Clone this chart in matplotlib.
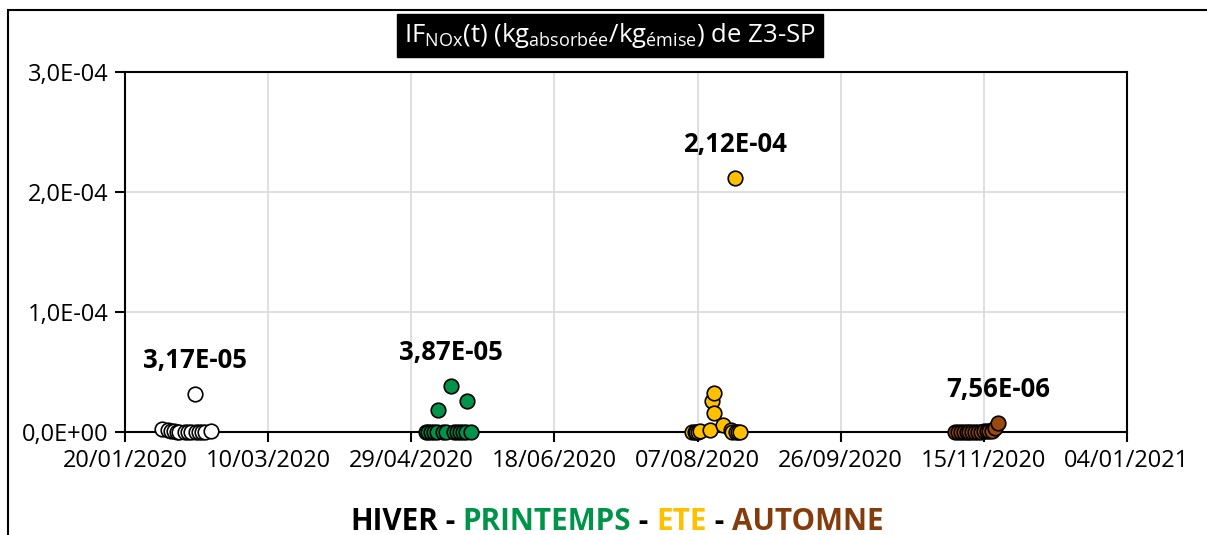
import numpy as np
import pandas as pd
import matplotlib
matplotlib.use('Agg')
import matplotlib.pyplot as plt
import matplotlib.dates as mdates
from matplotlib.patches import Rectangle
from matplotlib.text import Annotation
from matplotlib.ticker import FuncFormatter, FixedLocator

plt.rcParams['font.family'] = ['Open Sans', 'DejaVu Sans']
plt.rcParams['mathtext.fontset'] = 'custom'
plt.rcParams['mathtext.rm'] = 'Open Sans'
plt.rcParams['mathtext.it'] = 'Open Sans'

hiver_dates = ['2020-02-02', '2020-02-04', '2020-02-05', '2020-02-06', '2020-02-07',
               '2020-02-08', '2020-02-10', '2020-02-11', '2020-02-12', '2020-02-13 10:00',
               '2020-02-13 16:00', '2020-02-15', '2020-02-16', '2020-02-17', '2020-02-19']
hiver_vals = [2.5e-6, 1.5e-6, 0.8e-6, 0.5e-6, 0.3e-6,
              0.2e-6, 0.3e-6, 0.2e-6, 0.1e-6, 3.17e-5,
              0.2e-6, 0.1e-6, 0.1e-6, 0.2e-6, 0.5e-6]

printemps_dates = ['2020-05-04', '2020-05-05', '2020-05-06', '2020-05-07', '2020-05-08',
                   '2020-05-08 12:00', '2020-05-10', '2020-05-11', '2020-05-12 18:00', '2020-05-14',
                   '2020-05-15', '2020-05-16', '2020-05-17', '2020-05-18', '2020-05-18 12:00',
                   '2020-05-20']
printemps_vals = [0.1e-6, 0.1e-6, 0.2e-6, 0.1e-6, 0.2e-6,
                  1.83e-5, 0.3e-6, 0.2e-6, 3.87e-5, 0.2e-6,
                  0.1e-6, 0.1e-6, 0.2e-6, 0.3e-6, 2.6e-5,
                  0.3e-6]

ete_dates = ['2020-08-05', '2020-08-06', '2020-08-06 12:00', '2020-08-07', '2020-08-08',
             '2020-08-11 12:00', '2020-08-12 05:00', '2020-08-12 21:00', '2020-08-12 22:00',
             '2020-08-16', '2020-08-18 19:00', '2020-08-19', '2020-08-20 05:00', '2020-08-20 12:00',
             '2020-08-21', '2020-08-22']
ete_vals = [0.1e-6, 0.2e-6, 0.1e-6, 0.3e-6, 0.5e-6,
            1.7e-6, 2.58e-5, 3.25e-5, 1.58e-5,
            5.8e-6, 1.7e-6, 0.4e-6, 2.12e-4, 0.3e-6,
            0.2e-6, 0.3e-6]

automne_dates = ['2020-11-05', '2020-11-06', '2020-11-07', '2020-11-08', '2020-11-09',
                 '2020-11-10', '2020-11-11', '2020-11-12', '2020-11-13', '2020-11-14',
                 '2020-11-15', '2020-11-16', '2020-11-17', '2020-11-18', '2020-11-19',
                 '2020-11-20']
automne_vals = [0.1e-6, 0.1e-6, 0.1e-6, 0.1e-6, 0.2e-6,
                0.2e-6, 0.2e-6, 0.3e-6, 0.3e-6, 0.4e-6,
                0.5e-6, 0.6e-6, 0.8e-6, 0.5e-6, 3.0e-6,
                7.56e-6]

saisons = ['HIVER', 'PRINTEMPS', 'ETE', 'AUTOMNE']
couleurs = ['white', '#00934A', '#FFC000', '#9A4A10']
texte_couleurs = ['black', '#00934A', '#FFC000', '#843C0C']

x_ticks = ['2020-01-20', '2020-03-10', '2020-04-29', '2020-06-18',
           '2020-08-07', '2020-09-26', '2020-11-15', '2021-01-04']
y_ticks = [0, 1e-4, 2e-4, 3e-4]

series = [(hiver_dates, hiver_vals), (printemps_dates, printemps_vals),
          (ete_dates, ete_vals), (automne_dates, automne_vals)]

fig = plt.figure(figsize=(12.07, 5.35), dpi=100)
ax = fig.add_axes([0.1036, 0.1925, 0.83, 0.6729])

for (d, v), c in zip(series, couleurs):
    d = pd.to_datetime(d, format='mixed')
    ax.scatter(d, v, s=110, c=c, edgecolors='black', linewidths=1.2, zorder=3, clip_on=False)
    i = int(np.argmax(v))
    lab = f'{v[i]:.2E}'.replace('.', ',')
    ax.annotate(lab, (mdates.date2num(d[i]), v[i]), xytext=(0, 24), textcoords='offset points',
                ha='center', va='center', fontsize=18.5, fontweight='bold', color='black')

xt = mdates.date2num(pd.to_datetime(x_ticks))
ax.set_xlim(xt[0], xt[-1])
ax.xaxis.set_major_locator(FixedLocator(xt))
ax.xaxis.set_major_formatter(mdates.DateFormatter('%d/%m/%Y'))
ax.set_ylim(0, 3e-4)
ax.set_yticks(y_ticks)
ax.yaxis.set_major_formatter(FuncFormatter(lambda v, p: f'{v:.1E}'.replace('.', ',')))

ax.grid(True, color='#d9d9d9', linewidth=1.2, zorder=0)
ax.set_axisbelow(True)
for s in ax.spines.values():
    s.set_color('black')
    s.set_linewidth(1.5)
ax.tick_params(axis='both', direction='out', length=7, width=1.5, labelsize=17, colors='black', pad=5)

fig.text(0.5054, 0.933,
         r'IF$_\mathrm{NOx}$(t) (kg$_\mathrm{absorbée}$/kg$_\mathrm{émise}$) de Z3-SP',
         ha='center', va='center', fontsize=18.5, color='white',
         bbox=dict(facecolor='black', edgecolor='black', pad=5))

# legende des saisons : morceaux de texte colores mis bout a bout
parts = []
for k, (s, col) in enumerate(zip(saisons, texte_couleurs)):
    parts.append((s, col))
    if k < len(saisons) - 1:
        parts.append((' - ', 'black'))

prev = fig.text(0.29, 0.024, parts[0][0], color=parts[0][1], fontsize=21.3, fontweight='bold',
                ha='left', va='center')
for s, col in parts[1:]:
    prev = fig.add_artist(Annotation(s, xy=(1, 0.5), xycoords=prev, va='center', ha='left',
                                     color=col, fontsize=21.3, fontweight='bold'))

fig.add_artist(Rectangle((8 / 1207, -0.1), 1.2, 1.1 - 10 / 535, transform=fig.transFigure,
                         fill=False, edgecolor='black', linewidth=1.5))

fig.savefig('out.png', dpi=100)
